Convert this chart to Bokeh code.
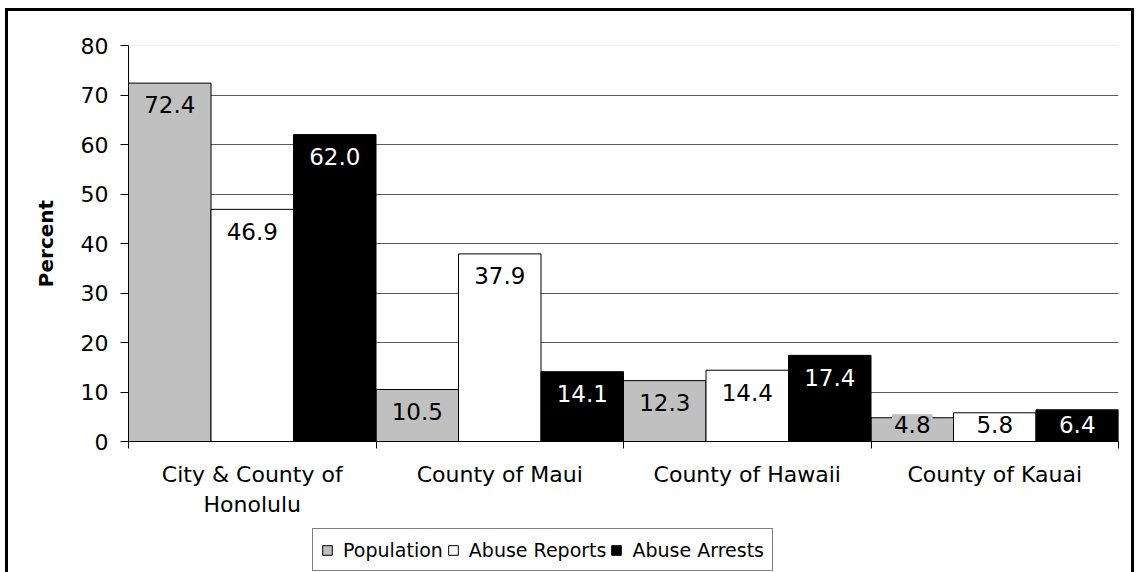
from bokeh.plotting import figure
from bokeh.layouts import column
from bokeh.models import (ColumnDataSource, FixedTicker, LinearAxis, Range1d, Span,
                          Legend, LegendItem)
from bokeh.core.properties import value
from bokeh.embed import file_html
from bokeh.resources import INLINE

categories = ["City & County of\nHonolulu", "County of Maui", "County of Hawaii", "County of Kauai"]
series = ["Population", "Abuse Reports", "Abuse Arrests"]
population = [72.4, 10.5, 12.3, 4.8]
abuse_reports = [46.9, 37.9, 14.4, 5.8]
abuse_arrests = [62.0, 14.1, 17.4, 6.4]
y_ticks = [0, 10, 20, 30, 40, 50, 60, 70, 80]

fills = ["#C0C0C0", "#FFFFFF", "#000000"]
text_colors = ["#000000", "#000000", "#FFFFFF"]
FONT = "DejaVu Sans"

p = figure(frame_width=990, frame_height=396, output_backend="svg", toolbar_location=None,
           x_range=Range1d(0, 4), y_range=Range1d(0, 80),
           min_border_left=120, min_border_right=13, min_border_top=34, min_border_bottom=79)
p.outline_line_color = None
p.background_fill_color = "white"
p.border_fill_color = "white"
p.xaxis.visible = False
p.yaxis.visible = False

# y axis
yax = LinearAxis(ticker=FixedTicker(ticks=y_ticks))
yax.axis_line_color = "black"
yax.major_tick_line_color = "black"
yax.major_tick_out = 8
yax.major_tick_in = 0
yax.minor_tick_line_color = None
yax.major_label_text_font = FONT
yax.major_label_text_font_size = "22px"
yax.major_label_text_color = "black"
yax.major_label_standoff = 12
yax.axis_label = "Percent"
yax.axis_label_text_font = FONT
yax.axis_label_text_font_style = "bold"
yax.axis_label_text_font_size = "20px"
yax.axis_label_text_color = "black"
yax.axis_label_standoff = 20
p.add_layout(yax, "left")

# x axis: labels at centers, ticks at boundaries
centers = [i + 0.5 for i in range(len(categories))]
bounds = [float(i) for i in range(len(categories) + 1)]
xax = LinearAxis(ticker=FixedTicker(ticks=centers, minor_ticks=bounds))
xax.major_label_overrides = {c: lab for c, lab in zip(centers, categories)}
xax.axis_line_color = "black"
xax.major_tick_line_color = None
xax.major_tick_out = 8
xax.major_tick_in = 0
xax.minor_tick_line_color = "black"
xax.minor_tick_out = 7
xax.minor_tick_in = 0
xax.major_label_text_font = FONT
xax.major_label_text_font_size = "22px"
xax.major_label_text_color = "black"
xax.major_label_standoff = 12
p.add_layout(xax, "below")

p.ygrid.ticker = FixedTicker(ticks=y_ticks[1:-1])
p.ygrid.grid_line_color = "#5a5a5a"
p.ygrid.grid_line_width = 1
p.xgrid.grid_line_color = None
p.add_layout(Span(location=80, dimension="width", line_color="#e4e4e4", line_width=1))

# legend lives in a small strip figure under the chart (its bars fall outside its view)
leg_fig = figure(width=990 + 133, height=55, output_backend="svg", toolbar_location=None,
                 x_range=Range1d(0, 4), y_range=Range1d(100000, 100001),
                 min_border_left=0, min_border_right=0, min_border_top=0, min_border_bottom=0)
leg_fig.xaxis.visible = False
leg_fig.yaxis.visible = False
leg_fig.xgrid.visible = False
leg_fig.ygrid.visible = False
leg_fig.outline_line_color = None
leg_fig.background_fill_color = "white"
leg_fig.border_fill_color = "white"

items = []
for j, (name, vals) in enumerate(zip(series, [population, abuse_reports, abuse_arrests])):
    xs = [i + (j + 0.5) / 3 for i in range(len(categories))]
    label_y = [max(v - 4.4, 3.4) for v in vals]
    src = ColumnDataSource(dict(x=xs, top=vals, ly=label_y,
                                txt=[f"{v:.1f}" for v in vals]))
    p.vbar(x="x", top="top", bottom=0, width=1 / 3, source=src,
           fill_color=fills[j], line_color="black", line_width=1)
    p.text(x="x", y="ly", text="txt", source=src, text_align="center",
           text_baseline="middle", text_font=value(FONT), text_font_size="23px",
           text_color=text_colors[j], background_fill_color=fills[j], padding=2)
    lr = leg_fig.vbar(x="x", top="top", bottom=0, width=1 / 3, source=src,
                      fill_color=fills[j], line_color="black", line_width=1)
    items.append(LegendItem(label=name, renderers=[lr]))

legend = Legend(items=items, orientation="horizontal", location=(184, 4))
legend.label_text_font = FONT
legend.label_text_font_size = "19px"
legend.label_text_color = "black"
legend.label_height = 25
legend.glyph_width = 12
legend.glyph_height = 12
legend.label_standoff = 10
legend.spacing = 4
legend.padding = 8
legend.margin = 0
legend.border_line_color = "black"
legend.border_line_width = 1
legend.background_fill_color = "white"
legend.background_fill_alpha = 1
leg_fig.add_layout(legend, "center")

layout = column(p, leg_fig, spacing=0,
                styles={"border": "3px solid black", "margin-left": "5px", "margin-top": "8px",
                        "background-color": "white"})

open("out.html", "w").write(file_html(layout, INLINE))
